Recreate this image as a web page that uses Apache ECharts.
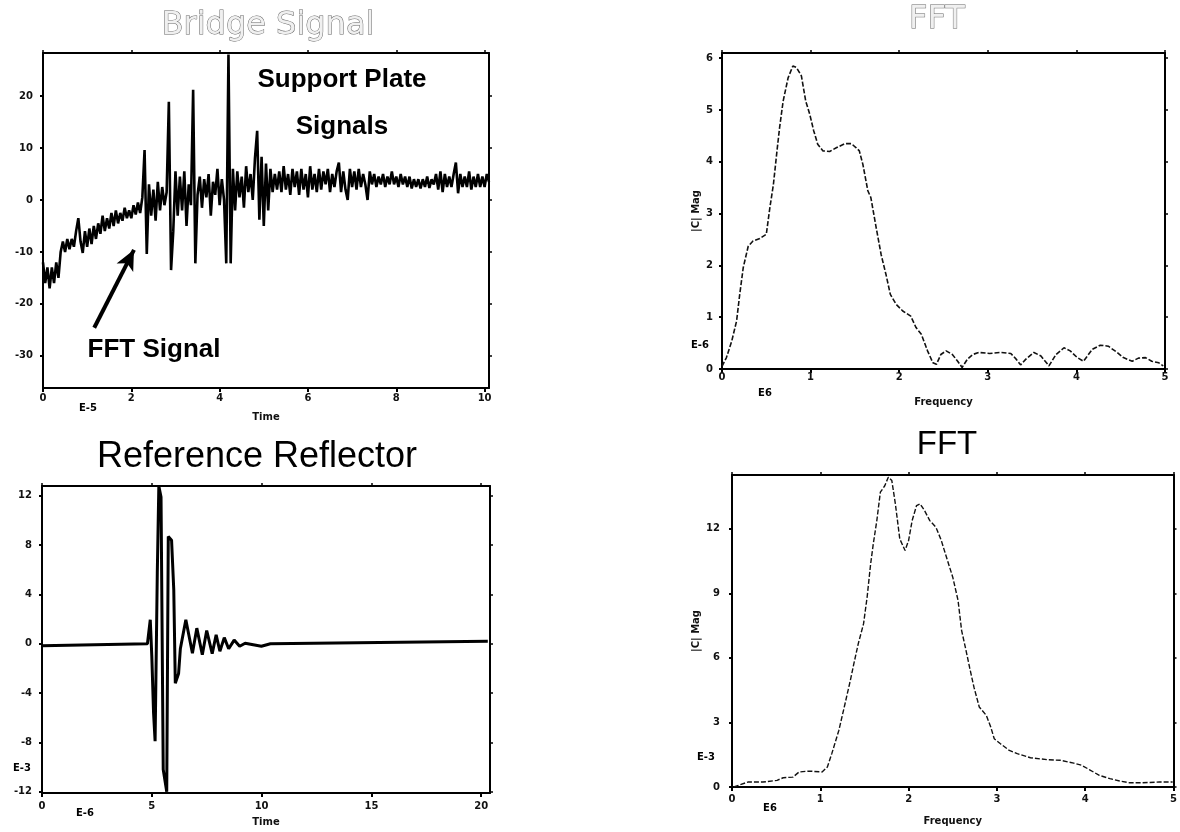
<!DOCTYPE html>
<html>
<head>
<meta charset="utf-8">
<script src="https://cdn.jsdelivr.net/npm/echarts@6/dist/echarts.min.js"></script>
<style>
html,body{margin:0;padding:0;background:#fff;}
#main{width:1180px;height:832px;}
</style>
</head>
<body>
<div id="main"></div>
<script>
// ---------- Bridge Signal (top-left) ----------
const bridgeTime = [
0,0.05,0.1,0.15,0.2,0.25,0.3,0.35,0.4,0.45,0.5,0.55,0.6,0.65,0.7,0.75,0.8,0.85,0.9,0.95,
1,1.05,1.1,1.15,1.2,1.25,1.3,1.35,1.4,1.45,1.5,1.55,1.6,1.65,1.7,1.75,1.8,1.85,1.9,1.95,
2,2.05,2.1,2.15,2.2,2.25,2.3,2.35,2.4,2.45,2.5,2.55,2.6,2.65,2.7,2.75,2.8,2.85,2.9,2.95,
3,3.05,3.1,3.15,3.2,3.25,3.3,3.35,3.4,3.45,3.5,3.55,3.6,3.65,3.7,3.75,3.8,3.85,3.9,3.95,
4,4.05,4.1,4.15,4.2,4.25,4.3,4.35,4.4,4.45,4.5,4.55,4.6,4.65,4.7,4.75,4.8,4.85,4.9,4.95,
5,5.05,5.1,5.15,5.2,5.25,5.3,5.35,5.4,5.45,5.5,5.55,5.6,5.65,5.7,5.75,5.8,5.85,5.9,5.95,
6,6.05,6.1,6.15,6.2,6.25,6.3,6.35,6.4,6.45,6.5,6.55,6.6,6.65,6.7,6.75,6.8,6.85,6.9,6.95,
7,7.05,7.1,7.15,7.2,7.25,7.3,7.35,7.4,7.45,7.5,7.55,7.6,7.65,7.7,7.75,7.8,7.85,7.9,7.95,
8,8.05,8.1,8.15,8.2,8.25,8.3,8.35,8.4,8.45,8.5,8.55,8.6,8.65,8.7,8.75,8.8,8.85,8.9,8.95,
9,9.05,9.1,9.15,9.2,9.25,9.3,9.35,9.4,9.45,9.5,9.55,9.6,9.65,9.7,9.75,9.8,9.85,9.9,9.95,
10,10.05,10.1];
const bridgeValue = [
-12,-16,-13,-17,-13,-16,-12,-15,-10,-8,-10,-7.5,-9.5,-7.5,-9,-6,-3.5,-8,-10.2,-6,
-9,-5.5,-8.5,-5,-7.5,-4.5,-6.5,-3,-6,-3.5,-5.5,-2.5,-5,-2,-4.5,-2.5,-4,-1.5,-3.5,-2,
-3.5,-1,-2.8,-0.5,-2.5,0.5,9.6,-10.4,3,-3,2,-4,3.5,-2,2.5,-1,1.5,18.9,-13.5,-6,
5.5,-3,4.5,-2,5.5,-5,3,-1,21.2,-12.2,1,4.5,-1.5,4,0.5,5,-3,3.5,1,6,
-1,4,0,-12.2,28,-12.2,6,-2,5.5,0.5,4.5,-1.5,6.5,1.5,5,0,8,13.3,-3.8,8.3,
-5,7,-2,6,1.5,5,2,5.5,1.5,6.5,2,5,1,6,2.5,5.5,1,6,2,5,
0.5,6.5,2,5,1.5,6,2,5.5,3,6,1.5,5,2.5,5.5,7.2,1.5,5.5,2,0,6,
2.5,5.5,2,6,2.5,5,3,0,5.5,3,5,2.5,4.5,3,5,2.5,4.5,3,5.5,3,
4.5,2.5,5,3,4.5,2.5,4.5,2.2,4,2.5,4,2.2,4,2.5,4.5,2.3,4,3,5,2,
5.5,1.5,5,2.5,4.5,2.5,5,7.2,1.3,5,2.5,4.5,2.5,5.5,2,4.5,2.5,5,2.5,4.5,
2.5,5,3.5];
const bridgeXTicks = [0,2,4,6,8,10];
const bridgeYTicks = [-30,-20,-10,0,10,20];
const arrowTail = [1.16,-24.6];
const arrowHead = [2.06,-9.6];

// ---------- FFT of bridge signal (top-right) ----------
const fft1Freq = [0,0.02,0.05,0.11,0.165,0.2,0.24,0.296,0.35,0.427,0.5,0.54,0.58,0.62,0.65,
0.69,0.746,0.8,0.84,0.896,0.945,0.99,1.035,1.08,1.14,1.215,1.29,1.385,1.46,1.515,
1.55,1.59,1.646,1.68,1.74,1.796,1.85,1.9,1.965,2.04,2.13,2.19,2.25,2.32,2.38,
2.42,2.47,2.53,2.6,2.66,2.71,2.77,2.83,2.9,3.02,3.15,3.26,3.32,3.37,3.43,
3.52,3.6,3.69,3.77,3.86,3.93,4.01,4.08,4.18,4.27,4.36,4.46,4.53,4.63,4.7,
4.78,4.85,4.93,4.98];
const fft1Mag = [0.05,0.02,0.22,0.54,0.93,1.44,1.96,2.37,2.47,2.52,2.6,3.11,3.56,4.2,4.66,
5.17,5.62,5.85,5.82,5.66,5.17,4.92,4.6,4.34,4.21,4.2,4.27,4.35,4.35,4.27,
4.21,3.95,3.44,3.31,2.73,2.21,1.83,1.44,1.25,1.12,1.02,0.8,0.67,0.35,0.12,
0.09,0.28,0.35,0.28,0.15,0.03,0.19,0.28,0.32,0.3,0.32,0.3,0.19,0.08,0.19,
0.32,0.25,0.06,0.28,0.41,0.35,0.22,0.15,0.38,0.46,0.44,0.32,0.22,0.15,0.21,
0.22,0.15,0.12,0.06];
const fft1XTicks = [0,1,2,3,4,5];
const fft1YTicks = [0,1,2,3,4,5,6];

// ---------- Reference Reflector (bottom-left) ----------
const reflTime = [0,4.8,4.93,5.0,5.08,5.15,5.25,5.32,5.42,5.52,5.68,5.75,5.9,6.0,6.07,
6.22,6.3,6.55,6.85,7.05,7.3,7.5,7.75,7.93,8.1,8.3,8.5,8.75,9.0,9.25,9.99,10.4,20.3];
const reflAmp = [-0.15,0,1.95,-1.0,-5.6,-7.9,5.75,12.8,11.9,-10.2,-12.0,8.7,8.4,4.4,-3.2,
-2.4,-0.4,1.95,-0.76,1.27,-0.89,1.08,-0.8,0.73,-0.6,0.5,-0.4,0.3,-0.2,0.05,-0.2,0,0.2];
const reflXTicks = [0,5,10,15,20];
const reflYTicks = [-12,-8,-4,0,4,8,12];

// ---------- FFT of reference reflector (bottom-right) ----------
const fft2Freq = [0.02,0.18,0.35,0.51,0.58,0.69,0.76,0.87,1.02,1.08,1.13,1.21,1.28,1.34,1.38,
1.43,1.49,1.53,1.57,1.6,1.64,1.68,1.73,1.77,1.81,1.85,1.9,1.96,2.0,2.04,
2.09,2.13,2.18,2.24,2.31,2.37,2.44,2.5,2.56,2.6,2.65,2.69,2.74,2.8,2.88,
2.93,2.97,3.04,3.14,3.23,3.38,3.57,3.72,3.87,3.96,4.05,4.16,4.28,4.39,4.5,
4.65,4.84,4.99];
const fft2Mag = [0,0.23,0.23,0.31,0.43,0.46,0.7,0.74,0.7,0.93,1.55,2.63,3.87,4.95,5.73,
6.66,7.59,8.82,10.37,11.3,12.38,13.7,14.0,14.4,14.24,13.16,11.53,10.99,11.46,12.38,
13.08,13.16,12.85,12.38,12.07,11.46,10.53,9.75,8.67,7.28,6.35,5.57,4.64,3.72,3.33,
2.79,2.24,2.01,1.7,1.55,1.36,1.27,1.24,1.11,1.01,0.8,0.54,0.39,0.28,0.2,
0.2,0.23,0.23];
const fft2XTicks = [0,1,2,3,4,5];
const fft2YTicks = [0,3,6,9,12];

// ---------- helpers ----------
const zip = (xs, ys) => xs.map((x, i) => [x, ys[i]]);
const tickFont = {fontFamily:'DejaVu Sans', fontWeight:'bold', fontSize:10, color:'#111'};
const nameFont = {fontFamily:'DejaVu Sans', fontWeight:'bold', fontSize:10, color:'#111'};
const boxLine = {show:true, onZero:false, lineStyle:{color:'#000', width:2}};

function xAxes(grid, min, max, ticks, name, margin, nameGap) {
  return [
    {type:'value', gridIndex:grid, min:min, max:max, position:'bottom',
     axisLine:boxLine,
     axisTick:{show:true, length:4, customValues:ticks, lineStyle:{color:'#000', width:2}},
     axisLabel:Object.assign({show:true, customValues:ticks, margin:margin, hideOverlap:false}, tickFont),
     splitLine:{show:false},
     name:name, nameLocation:'middle', nameGap:nameGap, nameTextStyle:nameFont},
    {type:'value', gridIndex:grid, min:min, max:max, position:'top',
     axisLine:boxLine,
     axisTick:{show:true, length:3, customValues:ticks, lineStyle:{color:'#000', width:1.5}},
     axisLabel:{show:false}, splitLine:{show:false}}
  ];
}
function yAxes(grid, min, max, ticks, name, margin, nameGap) {
  return [
    {type:'value', gridIndex:grid, min:min, max:max, position:'left',
     axisLine:boxLine,
     axisTick:{show:true, length:3, customValues:ticks, lineStyle:{color:'#000', width:2}},
     axisLabel:Object.assign({show:true, customValues:ticks, margin:margin, hideOverlap:false}, tickFont),
     splitLine:{show:false},
     name:name, nameLocation:'middle', nameRotate:90, nameGap:nameGap, nameTextStyle:nameFont},
    {type:'value', gridIndex:grid, min:min, max:max, position:'right',
     axisLine:boxLine,
     axisTick:{show:true, length:3, customValues:ticks, lineStyle:{color:'#000', width:1.5}},
     axisLabel:{show:false}, splitLine:{show:false}}
  ];
}

const xs = [].concat(
  xAxes(0, 0, 10.1, bridgeXTicks, 'Time', 5, 24),
  xAxes(1, 0, 5, fft1XTicks, 'Frequency', 3, 28),
  xAxes(2, 0, 20.4, reflXTicks, 'Time', 8, 24),
  xAxes(3, 0, 5, fft2XTicks, 'Frequency', 7, 29)
);
const ys = [].concat(
  yAxes(0, -36.2, 28.3, bridgeYTicks, '', 10, 30),
  yAxes(1, 0, 6.1, fft1YTicks, '|C| Mag', 9, 21),
  yAxes(2, -12.1, 12.8, reflYTicks, '', 10, 30),
  yAxes(3, 0, 14.5, fft2YTicks, '|C| Mag', 12, 31)
);

function txt(text, x, y, font, extra) {
  return {type:'text', silent:true, z:100,
    style:Object.assign({text:text, x:x, y:y, font:font, fill:'#000',
      textAlign:'center', textVerticalAlign:'middle'}, extra || {})};
}
const smallFont = 'bold 10px "DejaVu Sans"';

const option = {
  animation:false,
  backgroundColor:'#fff',
  grid:[
    {left:43, top:53, width:446, height:335},
    {left:722, top:53, width:443, height:316},
    {left:42, top:486, width:448, height:307},
    {left:732, top:475, width:445, height:312}
  ],
  xAxis:xs,
  yAxis:ys,
  series:[
    {type:'line', xAxisIndex:0, yAxisIndex:0, data:zip(bridgeTime, bridgeValue),
     showSymbol:false, lineStyle:{color:'#000', width:2.6}, clip:true,
     markLine:{silent:true, symbol:['none','arrow'], symbolSize:[14,20],
       lineStyle:{color:'#000', width:4, type:'solid'}, label:{show:false},
       data:[[{coord:arrowTail},{coord:arrowHead}]]}},
    {type:'line', xAxisIndex:2, yAxisIndex:2, data:zip(fft1Freq, fft1Mag),
     showSymbol:false, lineStyle:{color:'#111', width:1.6, type:[5,2]}},
    {type:'line', xAxisIndex:4, yAxisIndex:4, data:zip(reflTime, reflAmp),
     showSymbol:false, lineStyle:{color:'#000', width:3}, clip:true},
    {type:'line', xAxisIndex:6, yAxisIndex:6, data:zip(fft2Freq, fft2Mag),
     showSymbol:false, lineStyle:{color:'#111', width:1.4, type:[5,2]}}
  ],
  graphic:[
    txt('Bridge Signal', 268, 26, '32px "DejaVu Sans"', {fill:'#f0f0f0', stroke:'#666', lineWidth:1}),
    txt('FFT', 937, 20, '32px "DejaVu Sans"', {fill:'#f0f0f0', stroke:'#666', lineWidth:1}),
    txt('Reference Reflector', 257, 457, '500 36px "Liberation Sans"'),
    txt('FFT', 947, 445, '33px "Liberation Sans"'),
    txt('Support Plate', 342, 80, 'bold 26px "Liberation Sans"'),
    txt('Signals', 342, 127, 'bold 26px "Liberation Sans"'),
    txt('FFT Signal', 154, 350, 'bold 26px "Liberation Sans"'),
    txt('E-5', 88, 408, smallFont),
    txt('E-6', 700, 345, smallFont),
    txt('E6', 765, 393, smallFont),
    txt('E-6', 85, 813, smallFont),
    txt('E-3', 22, 768, smallFont),
    txt('E-3', 706, 757, smallFont),
    txt('E6', 770, 808, smallFont)
  ]
};
const chart = echarts.init(document.getElementById('main'), null, {renderer:'canvas'});
chart.setOption(option);
</script>
</body>
</html>
